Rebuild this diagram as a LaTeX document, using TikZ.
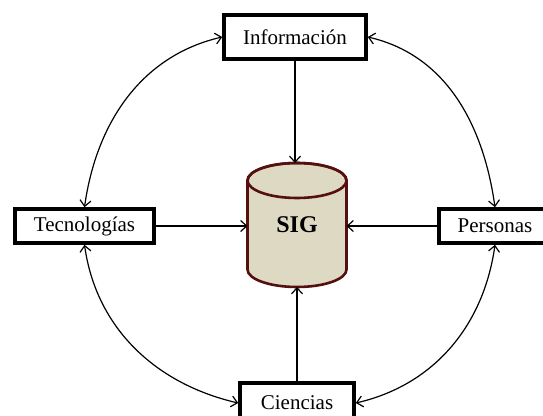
\documentclass[tikz,border=0pt]{standalone}
\usepackage{fontspec}
\setmainfont{Liberation Serif}
\usetikzlibrary{arrows.meta}
\definecolor{cylfill}{RGB}{221,217,195}
\definecolor{cylline}{RGB}{85,15,15}
\begin{document}
\begin{tikzpicture}[x=1pt,y=1pt,
  box/.style={draw=black, line width=3.6pt, fill=white, inner sep=0pt,
    font=\fontsize{21}{25}\selectfont},
  conn/.style={line width=1.2pt, -{Straight Barb[length=6pt,width=11pt,line width=1.2pt]}},
  biconn/.style={line width=1.2pt, looseness=0.98, {Straight Barb[length=6pt,width=11pt,line width=1.2pt]}-{Straight Barb[length=6pt,width=11pt,line width=1.2pt]}}]
\useasboundingbox (0,0) rectangle (543,415);
\clip (0,0) rectangle (543,415);
% cylinder body
\filldraw[fill=cylfill, draw=cylline, line width=2.6pt]
  (247.5,234.5) -- (247.5,145.5)
  arc[start angle=180, end angle=360, x radius=49.5, y radius=17.5]
  -- (346.5,234.5)
  arc[start angle=0, end angle=180, x radius=49.5, y radius=17.5] -- cycle;
\draw[draw=cylline, line width=2.6pt] (297,234.5) ellipse[x radius=49.5, y radius=17.5];
\node[minimum width=99pt, minimum height=124pt, inner sep=0pt, outer sep=0pt,
  font=\bfseries\fontsize{24}{28}\selectfont] (sig) at (297,190) {SIG};

\node[box, minimum width=142pt, minimum height=44pt] (info) at (295,378) {Información};
\node[box, minimum width=139pt, minimum height=34pt] (tec) at (84.5,189) {Tecnologías};
\node[box, minimum width=112pt, minimum height=34pt] (per) at (495,189) {Personas};
\node[box, minimum width=114pt, minimum height=40pt] (cien) at (297,12) {Ciencias};

\draw[conn] (info.south) -- (info.south |- sig.north);
\draw[conn] (tec.east) -- (tec.east -| sig.west);
\draw[conn] (per.west) -- (per.west -| sig.east);
\draw[conn] (cien.north) -- (cien.north |- sig.south);

\draw[biconn] (info.west) to[out=193, in=82] (tec.north);
\draw[biconn] (info.east) to[out=-13, in=98] (per.north);
\draw[biconn] (tec.south) to[out=278, in=167] (cien.west);
\draw[biconn] (per.south) to[out=262, in=13] (cien.east);
\end{tikzpicture}
\end{document}
